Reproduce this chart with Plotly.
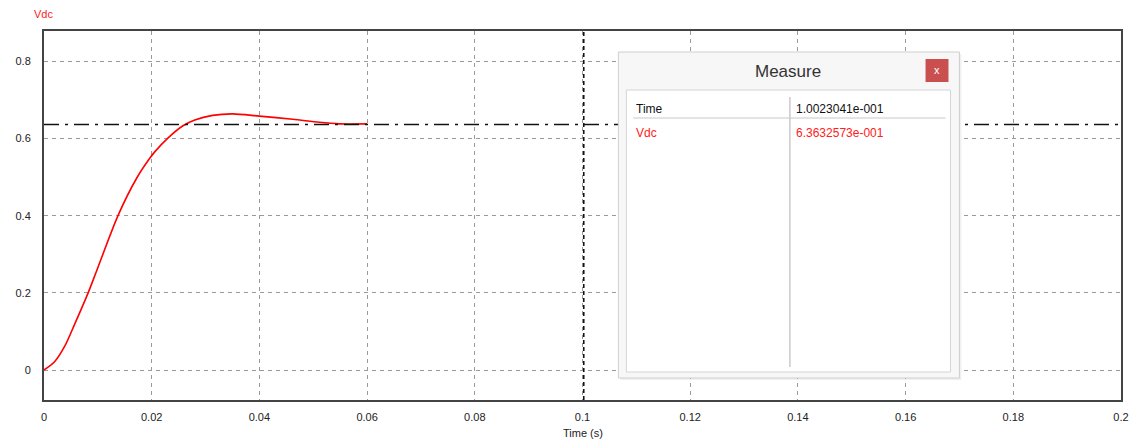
import plotly.graph_objects as go

# ---- data ----
time_s = [0.0, 0.0020, 0.0039, 0.0057, 0.0082, 0.0098, 0.0138, 0.0172, 0.0196, 0.0206,
          0.0230, 0.0258, 0.0280, 0.0313, 0.0350, 0.0400, 0.0462, 0.0511, 0.0548, 0.0600]
vdc = [0.0, 0.022, 0.063, 0.119, 0.200, 0.258, 0.402, 0.497, 0.548, 0.566,
       0.601, 0.633, 0.648, 0.660, 0.664, 0.658, 0.650, 0.642, 0.638, 0.638]
x_ticks = [0, 0.02, 0.04, 0.06, 0.08, 0.1, 0.12, 0.14, 0.16, 0.18, 0.2]
x_labels = ["0", "0.02", "0.04", "0.06", "0.08", "0.1", "0.12", "0.14", "0.16", "0.18", "0.2"]
y_ticks = [0, 0.2, 0.4, 0.6, 0.8]
y_labels = ["0", "0.2", "0.4", "0.6", "0.8"]
cursor_time = 0.10023041
cursor_value = 0.63632573
time_text = "1.0023041e-001"
vdc_text = "6.3632573e-001"

W, H = 1141, 443
L, T = 44, 31
PW, PH = 1080, 369
R, B = W - L - PW, H - T - PH


def px(x):
    return (x - L) / PW


def py(y):
    return 1 - (y - T) / PH


FONT = "Liberation Sans, Arial, sans-serif"

fig = go.Figure()
fig.add_trace(go.Scatter(x=time_s, y=vdc, mode="lines",
                         line=dict(color="#ff0000", width=1.6, shape="spline", smoothing=0.8),
                         showlegend=False, hoverinfo="skip"))

shapes = []
# cursor lines
shapes.append(dict(type="line", xref="x", yref="paper", x0=cursor_time, x1=cursor_time, y0=0, y1=1,
                   line=dict(color="#111", width=1.6, dash="4px,3px"), layer="above"))
shapes.append(dict(type="line", xref="paper", yref="y", x0=0, x1=1, y0=cursor_value, y1=cursor_value,
                   line=dict(color="#111", width=1.3, dash="longdashdot"), layer="above"))


def rect(x0, y0, x1, y1, fill, line_color, lw=1):
    return dict(type="rect", xref="paper", yref="paper", x0=px(x0), x1=px(x1), y0=py(y1), y1=py(y0),
                fillcolor=fill, line=dict(color=line_color, width=lw), layer="above")


def hline(x0, x1, y, color, lw=1):
    return dict(type="line", xref="paper", yref="paper", x0=px(x0), x1=px(x1), y0=py(y), y1=py(y),
                line=dict(color=color, width=lw), layer="above")


def vline(x, y0, y1, color, lw=1):
    return dict(type="line", xref="paper", yref="paper", x0=px(x), x1=px(x), y0=py(y1), y1=py(y0),
                line=dict(color=color, width=lw), layer="above")


# Measure dialog
shapes.append(rect(622, 54, 964, 380, "rgba(0,0,0,0.06)", "rgba(0,0,0,0)", 0))  # shadow
shapes.append(rect(620, 52, 962, 378, "#f7f7f7", "#cfcfcf", 1))
shapes.append(rect(628, 90, 953, 372, "#ffffff", "#d4d4d4", 1))
shapes.append(vline(792, 97, 367, "#b0b0b0", 1))
shapes.append(hline(635, 948, 118, "#c8c8c8", 1))
shapes.append(rect(928, 59, 951, 82, "#c9504f", "#c9504f", 0))


def label(text, x, y, color, size, anchor="left"):
    return dict(text=text, xref="paper", yref="paper", x=px(x), y=py(y), xanchor=anchor, yanchor="middle",
                showarrow=False, font=dict(color=color, size=size, family=FONT))


annotations = [
    label("Vdc", 32, 14, "#ff2020", 11),
    label("Time (s)", 585, 433, "#222", 11, "center"),
    label("Measure", 790, 71, "#333", 17, "center"),
    label("x", 939.5, 70, "#ffffff", 11, "center"),
    label("Time", 636, 109, "#111", 12),
    label(time_text, 796, 109, "#111", 12),
    label("Vdc", 636, 133, "#ff2020", 12),
    label(vdc_text, 796, 133, "#ff2020", 12),
]

y_min = -(400 - 370) / 385.8
y_max = (370 - 31) / 385.8

axis_common = dict(showgrid=True, gridcolor="#9a9a9a", griddash="4px,4px", gridwidth=1, zeroline=False,
                   showline=True, linecolor="#444", linewidth=2, mirror=True,
                   tickfont=dict(size=11, color="#222"))

fig.update_layout(
    width=W, height=H, margin=dict(l=L, r=R, t=T, b=B, pad=0),
    paper_bgcolor="#ffffff", plot_bgcolor="#ffffff",
    shapes=shapes, annotations=annotations, showlegend=False,
    font=dict(family=FONT, size=11, color="#222"),
    xaxis=dict(range=[0, 0.2], tickvals=x_ticks, ticktext=x_labels, ticks="outside", ticklen=6,
               tickcolor="rgba(0,0,0,0)", **axis_common),
    yaxis=dict(range=[y_min, y_max], tickvals=y_ticks, ticktext=y_labels, ticks="outside", ticklen=9,
               tickcolor="rgba(0,0,0,0)", **axis_common),
)

fig.write_html("out.html", config={"displayModeBar": False},
               post_script="document.body.style.margin='0';")
